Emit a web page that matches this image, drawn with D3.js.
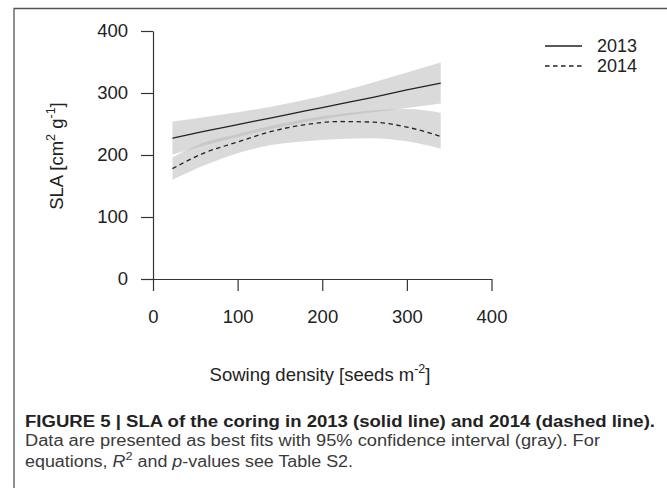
<!DOCTYPE html>
<html>
<head>
<meta charset="utf-8">
<script src="https://cdn.jsdelivr.net/npm/d3@7"></script>
<style>
  body { margin: 0; background: #fff; }
  svg { display: block; font-family: "Liberation Sans", Arial, sans-serif; }
</style>
</head>
<body>
<div class="chart"></div>
<script>

  //////////
  // Data //
  //////////

  var sowing    = [23, 60, 100, 140, 180, 220, 260, 300, 340];
  var fit2013   = [227, 238, 249, 260, 271, 282, 293, 305, 316];
  var upper2013 = [254, 261, 269, 278, 289, 302, 317, 333, 349];
  var lower2013 = [201, 215, 229, 242, 253, 262, 269, 276, 283];
  var fit2014   = [178, 203, 221, 238, 249, 254, 253, 245, 230];
  var upper2014 = [196, 220, 234, 247, 258, 266, 272, 274, 268];
  var lower2014 = [160, 183, 203, 216, 222, 226, 227, 222, 210];

  var xTicks = [0, 100, 200, 300, 400];
  var yTicks = [0, 100, 200, 300, 400];
  var years  = ['2013', '2014'];

  ///////////
  // Setup //
  ///////////

  var svg = d3.select('.chart')
              .append('svg')
              .attr('width', 667)
              .attr('height', 488);

  // frame round the figure
  svg.append('path')
     .attr('d', 'M14,488 V8.5 H667')
     .attr('fill', 'none')
     .attr('stroke', '#555')
     .attr('stroke-width', 1.3);

  var x = d3.scaleLinear().domain([0, 400]).range([153, 491.5]);
  var y = d3.scaleLinear().domain([0, 400]).range([279, 31]);

  var rows = sowing.map(function(s, i){
    return { s: s, f13: fit2013[i], u13: upper2013[i], l13: lower2013[i],
             f14: fit2014[i], u14: upper2014[i], l14: lower2014[i] };
  });

  ///////////
  // Bands //
  ///////////

  var band = function(up, lo){
    return d3.area()
             .curve(d3.curveMonotoneX)
             .x(function(d){ return x(d.s); })
             .y0(function(d){ return y(d[lo]); })
             .y1(function(d){ return y(d[up]); });
  };

  [['u13', 'l13'], ['u14', 'l14']].forEach(function(k){
    svg.append('path')
       .datum(rows)
       .attr('d', band(k[0], k[1]))
       .attr('fill', 'rgb(185,185,185)')
       .attr('fill-opacity', 0.52);
  });

  ///////////
  // Lines //
  ///////////

  var line = function(key){
    return d3.line()
             .curve(d3.curveMonotoneX)
             .x(function(d){ return x(d.s); })
             .y(function(d){ return y(d[key]); });
  };

  svg.append('path')
     .datum(rows)
     .attr('d', line('f13'))
     .attr('fill', 'none')
     .attr('stroke', '#222')
     .attr('stroke-width', 1.3);

  svg.append('path')
     .datum(rows)
     .attr('d', line('f14'))
     .attr('fill', 'none')
     .attr('stroke', '#222')
     .attr('stroke-width', 1.3)
     .attr('stroke-dasharray', '4.5,3.5');

  //////////
  // Axes //
  //////////

  var xAxis = svg.append('g')
                 .attr('transform', 'translate(0,' + y(0) + ')')
                 .call(d3.axisBottom(x).tickValues(xTicks).tickSize(12).tickSizeOuter(0).tickPadding(19));

  var yAxis = svg.append('g')
                 .attr('transform', 'translate(' + x(0) + ',0)')
                 .call(d3.axisLeft(y).tickValues(yTicks).tickSize(12).tickSizeOuter(0).tickPadding(13));

  [xAxis, yAxis].forEach(function(a){
    a.selectAll('path, line').attr('stroke', '#333').attr('stroke-width', 1.2);
    a.selectAll('text')
     .attr('fill', '#222')
     .style('font-size', '18.5px')
     .style('font-family', '"Liberation Sans", Arial, sans-serif');
  });

  // axis titles
  var xTitle = svg.append('text')
                  .attr('x', 320)
                  .attr('y', 381)
                  .attr('text-anchor', 'middle')
                  .attr('fill', '#222')
                  .style('font-size', '18.5px');
  xTitle.append('tspan').text('Sowing density [seeds m');
  xTitle.append('tspan').attr('dy', -8).style('font-size', '12.5px').text('-2');
  xTitle.append('tspan').attr('dy', 8).text(']');

  var yTitle = svg.append('text')
                  .attr('transform', 'translate(63,156) rotate(-90)')
                  .attr('text-anchor', 'middle')
                  .attr('fill', '#222')
                  .style('font-size', '18.5px');
  yTitle.append('tspan').text('SLA [cm');
  yTitle.append('tspan').attr('dy', -8).style('font-size', '12.5px').text('2');
  yTitle.append('tspan').attr('dy', 8).text(' g');
  yTitle.append('tspan').attr('dy', -8).style('font-size', '12.5px').text('-1');
  yTitle.append('tspan').attr('dy', 8).text(']');

  ////////////
  // Legend //
  ////////////

  var legend = svg.selectAll('.legend')
                  .data(years)
                  .enter()
                  .append('g')
                  .attr('class', 'legend')
                  .attr('transform', function(d, i){ return 'translate(545,' + (46 + i * 20) + ')'; });

  legend.append('line')
        .attr('x1', 0).attr('x2', 37)
        .attr('stroke', '#222')
        .attr('stroke-width', 1.3)
        .attr('stroke-dasharray', function(d, i){ return i ? '4.5,3.5' : null; });

  legend.append('text')
        .attr('x', 52)
        .attr('dy', '0.35em')
        .attr('fill', '#222')
        .style('font-size', '18px')
        .text(function(d){ return d; });

  /////////////
  // Caption //
  /////////////

  svg.append('text')
     .attr('x', 25).attr('y', 427)
     .attr('fill', '#222')
     .attr('font-weight', 'bold')
     .attr('textLength', 630)
     .attr('lengthAdjust', 'spacingAndGlyphs')
     .style('font-size', '16px')
     .text('FIGURE 5 | SLA of the coring in 2013 (solid line) and 2014 (dashed line).');

  svg.append('text')
     .attr('x', 25).attr('y', 446)
     .attr('fill', '#3a3a3a')
     .attr('textLength', 575)
     .attr('lengthAdjust', 'spacingAndGlyphs')
     .style('font-size', '16px')
     .text('Data are presented as best fits with 95% confidence interval (gray). For');

  var cap3 = svg.append('text')
                .attr('x', 25).attr('y', 467)
                .attr('fill', '#3a3a3a')
                .attr('textLength', 328)
                .attr('lengthAdjust', 'spacingAndGlyphs')
                .style('font-size', '16px');
  cap3.append('tspan').text('equations, ');
  cap3.append('tspan').attr('font-style', 'italic').text('R');
  cap3.append('tspan').attr('dy', -7).style('font-size', '11.5px').text('2');
  cap3.append('tspan').attr('dy', 7).text(' and ');
  cap3.append('tspan').attr('font-style', 'italic').text('p');
  cap3.append('tspan').text('-values see Table S2.');

</script>
</body>
</html>
